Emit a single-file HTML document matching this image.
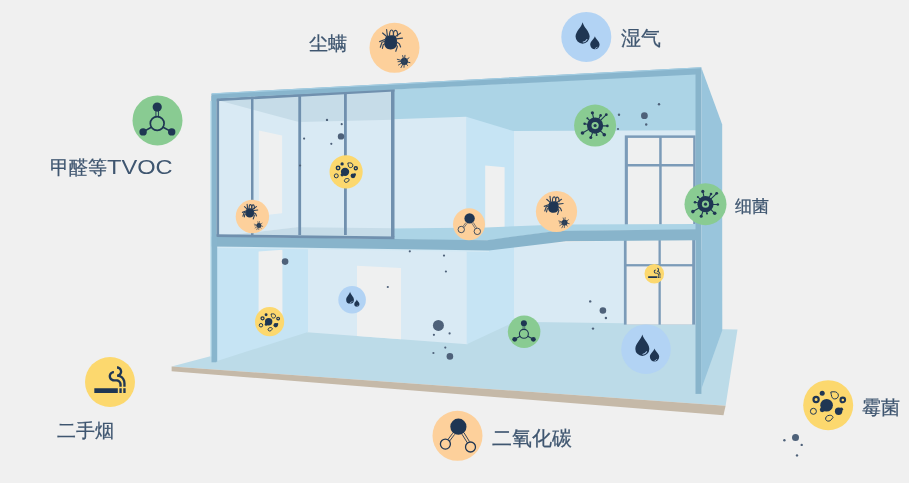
<!DOCTYPE html>
<html><head><meta charset="utf-8">
<style>
html,body{margin:0;padding:0;background:#f0f0f0;}
body{width:909px;height:483px;overflow:hidden;position:relative;font-family:"Liberation Sans",sans-serif;}
svg{position:absolute;left:0;top:0;}
.t{position:absolute;will-change:transform;font-weight:400;-webkit-text-stroke:0.25px #3f5670;font-family:"Liberation Sans",sans-serif;color:#3f5670;font-size:19px;line-height:1;white-space:nowrap;}
</style></head><body>
<svg width="909" height="483" viewBox="0 0 909 483">
<defs>
<!-- icon symbols centred at 0,0, circle radius 25 -->
<g id="mite">
  <circle r="25" fill="#fdd09b"/>
  <g fill="#1f3653" stroke="#1f3653" stroke-linecap="round" stroke-linejoin="round">
    <path stroke="none" d="M-7.9,-11.8 C-4.2,-12.9 -0.4,-12.7 1.2,-11.6 C2.6,-9.6 2.7,-6.2 2.5,-4 C2.3,-0.3 -0.4,1.7 -3.9,1.6 C-7.7,1.5 -10.3,-0.9 -10.2,-4.6 C-10.1,-7.6 -9.4,-10.4 -7.9,-11.8 Z"/>
    <g fill="none" stroke-width="1.15" stroke="#33455b">
      <path vector-effect="non-scaling-stroke" d="M-4.9,-11.8 C-5.1,-15.5 -4.3,-17.8 -2.9,-17.8 C-1.5,-17.8 -0.9,-15.5 -0.9,-11.8"/>
      <path vector-effect="non-scaling-stroke" d="M-1.2,-12 C-1.2,-15.3 -0.3,-17.5 1,-17.5 C2.4,-17.5 3.2,-15.3 3.1,-11.9"/>
      <path vector-effect="non-scaling-stroke" d="M-7.1,-11.8 L-7.9,-18.3"/>
      <path vector-effect="non-scaling-stroke" d="M-7.6,-11 L-11.9,-14.8"/>
      <path vector-effect="non-scaling-stroke" d="M-9,-8.6 L-14.9,-6.2"/>
      <path vector-effect="non-scaling-stroke" d="M-9.5,-6.5 L-12.5,-5.6 L-14.2,-0.6"/>
      <path vector-effect="non-scaling-stroke" d="M-9.6,-4.2 L-11.3,-3 L-12.1,0.6"/>
      <path vector-effect="non-scaling-stroke" d="M1.3,-11.6 L6.1,-14.8"/>
      <path vector-effect="non-scaling-stroke" d="M1.8,-8.9 L8,-9.7"/>
      <path vector-effect="non-scaling-stroke" d="M2.1,-5.7 L4.8,-4 L6.1,-0.8"/>
      <path vector-effect="non-scaling-stroke" d="M1.8,-3.2 L2.9,-1.3 L1.3,3.5"/>
    </g>
    <circle cx="9.8" cy="13.5" r="3.6" stroke="none"/>
    <g fill="none" stroke-width="0.95" stroke="#33455b">
      <path d="M9.8,13.5 L2.8,11.5 M9.8,13.5 L3.5,13.9 M9.8,13.5 L4,17.2 M9.8,13.5 L6.5,19.8 M9.8,13.5 L8.1,7.8 M9.8,13.5 L10.5,7.5 M9.8,13.5 L15.4,14.8 M9.8,13.5 L13,17.7 M9.8,13.5 L14.5,10 M9.8,13.5 L9.5,19.5"/>
    </g>
  </g>
</g>
<g id="water">
  <circle r="25" fill="#b2d3f4"/>
  <path fill="#1f3653" d="M-3.70,-14.70 C-2.64,-9.66 3.35,-5.59 3.35,-0.30 A7.05,7.05 0 0 1 -10.75,-0.30 C-10.75,-5.59 -4.76,-9.66 -3.70,-14.70 Z"/>
  <path fill="#1f3653" d="M8.60,-0.70 C9.30,2.24 13.30,4.17 13.30,7.70 A4.7,4.7 0 0 1 3.90,7.70 C3.90,4.17 7.89,2.24 8.60,-0.70 Z"/>
  <path fill="none" stroke="#aac9ea" stroke-width="1.1" stroke-linecap="round" d="M-3.1,5.1 Q-0.8,5 0.6,2.6"/>
  <path fill="none" stroke="#aac9ea" stroke-width="0.8" stroke-linecap="round" d="M9.0,11.6 Q10.3,11.4 10.9,10.3"/>
</g>
<g id="voc">
  <circle r="25" fill="#89cb92"/>
  <g stroke="#1f3653" fill="#1f3653" stroke-linecap="round">
    <circle cx="-0.3" cy="3.1" r="6.9" fill="none" stroke-width="1.7"/>
    <circle cx="-0.3" cy="-13.3" r="4.6" stroke="none"/>
    <path d="M-1.6,-9.5 L-1.6,-3.6 M1.0,-9.5 L1.0,-3.6" stroke-width="0.9" fill="none"/>
    <path d="M-6.2,6.8 L-14.4,11.5 M5.6,6.8 L14.2,11.5" stroke-width="1.6" fill="none"/>
    <circle cx="-14.4" cy="11.5" r="3.7" stroke="none"/>
    <circle cx="14.2" cy="11.5" r="3.7" stroke="none"/>
  </g>
</g>
<g id="cig">
  <circle r="25" fill="#fcd86e"/>
  <g transform="translate(-18.8,-18.8) scale(1.565)" fill="#1f3653">
    <path d="M2 16h15v3H2zm18.5 0H22v3h-1.5zM18 16h1.5v3H18zm.85-8.27c.62-.61 1-1.45 1-2.38C19.85 3.5 18.35 2 16.5 2v1.5c1.02 0 1.85.83 1.85 1.85S17.52 7.2 16.5 7.2v1.5c2.24 0 4 1.83 4 4.07V15H22v-2.24c0-2.22-1.28-4.14-3.15-5.03zm-2.82 2.47H14.5c-1.02 0-1.85-.98-1.85-2s.83-1.75 1.85-1.75v-1.5c-1.85 0-3.35 1.5-3.35 3.35s1.5 3.35 3.35 3.35h1.53c1.05 0 1.97.74 1.97 2.05V15h1.5v-1.64c0-1.81-1.6-3.16-3.47-3.16z"/>
  </g>
</g>
<g id="virus">
  <circle r="25" fill="#89cb92"/>
  <g transform="scale(1.19)" fill="#1f3653" stroke="#1f3653" stroke-linecap="round">
    <g stroke-width="1.1" fill="none">
      <path d="M0,0 L-2.7,-12.8 M0,0 L5.5,-10.2 M0,0 L11.2,-10.9 M0,0 L12.3,0.3 M0,0 L9.2,9.1 M0,0 L1.5,9.4 M0,0 L-4.3,12 M0,0 L-12.6,7.4 M0,0 L-10.5,-1.9 M0,0 L-7.7,-7.3"/>
    </g>
    <g stroke="none">
      <circle cx="-2.7" cy="-12.8" r="1.6"/>
      <circle cx="5.5" cy="-10.2" r="1.3"/>
      <circle cx="11.2" cy="-10.9" r="1.4"/>
      <circle cx="12.3" cy="0.3" r="1.3"/>
      <circle cx="9.2" cy="9.1" r="1.8"/>
      <circle cx="1.5" cy="9.4" r="1"/>
      <circle cx="-4.3" cy="12" r="1.5"/>
      <circle cx="-12.6" cy="7.4" r="1.8"/>
      <circle cx="-10.5" cy="-1.9" r="1.3"/>
      <circle cx="-7.7" cy="-7.3" r="1"/>
      <circle r="8.1"/>
      <circle r="3.6" fill="#89cb92"/>
      <circle r="1.6"/>
    </g>
  </g>
</g>
<g id="mold">
  <circle r="25" fill="#fcd86e"/>
  <g fill="#1f3653" stroke="#1f3653">
    <circle cx="-1.6" cy="0.1" r="6.3" stroke="none"/>
    <circle cx="-6" cy="4.6" r="2.4" stroke="none"/>
    <circle cx="-6" cy="-11.9" r="2.5" stroke="none"/>
    <circle cx="-12.1" cy="-5.7" r="2.6" fill="none" stroke-width="2.2"/>
    <circle cx="14.6" cy="-5.3" r="2.3" fill="none" stroke-width="2.1"/>
    <path fill="none" stroke-width="1" vector-effect="non-scaling-stroke" d="M2.6,-13.2 C4.2,-13.6 5.5,-13.4 7.2,-13.3 C9.6,-12.8 10.6,-10.5 10,-8.6 C9.2,-6.4 6.8,-5.8 5,-6.6 C3.5,-7.4 3.3,-9.4 2.6,-13.2 Z"/>
    <circle cx="-14.8" cy="6.1" r="3" fill="none" stroke-width="1" vector-effect="non-scaling-stroke"/>
    <circle cx="10.4" cy="6.1" r="3.7" stroke="none"/>
    <circle cx="13.1" cy="4.1" r="1.8" stroke="none"/>
    <path fill="none" stroke-width="1" vector-effect="non-scaling-stroke" d="M4.8,12.3 C4.6,10.6 3.1,9.9 1,10.1 C-1.6,10.4 -3,12.3 -2.5,14.2 C-1.9,16 0.4,16.4 2.2,15.4 C3.4,14.6 3.8,13 4.8,12.3 Z"/>
  </g>
</g>
<g id="co2">
  <circle r="25" fill="#fdd09b"/>
  <g stroke="#1f3653" fill="#1f3653">
    <circle cx="0.9" cy="-9.1" r="8.1" stroke="none"/>
    <path fill="none" stroke-width="0.9" d="M-4.8,-2.6 L-9.9,4.2 M-2.9,-1.4 L-8,5.4 M4.5,-1.6 L9.9,7.1 M6.6,-2.9 L12,5.8"/>
    <circle cx="-12.1" cy="8.3" r="5" fill="#fdd09b" stroke-width="1.3"/>
    <circle cx="13" cy="11.2" r="5" fill="#fdd09b" stroke-width="1.3"/>
  </g>
</g>
</defs>

<!-- ===== BASE SLAB ===== -->
<polygon fill="#bcdbe8" points="171.6,366.4 217,354.6 217,250 722,250 722.2,329.2 737.5,329.4 725.6,405.8"/>
<polygon fill="#c5b9a8" points="171.6,366.4 725.6,405.8 723.5,415.3 171.6,371.2"/>

<!-- ===== BOTTOM FLOOR ===== -->
<!-- back walls -->
<polygon fill="#d9eaf4" points="307,248 467.6,248 467.6,344.3 307,332.3"/>
<polygon fill="#d9eaf4" points="513,244 697.5,238 697.5,324.2 513,321.8"/>
<!-- left wall -->
<polygon fill="#c6e4f4" points="217,248 308,248 308,332 217,361"/>
<!-- partition -->
<polygon fill="#c6e4f4" points="466.7,248 514,244 514,322 466.7,344.3"/>

<!-- doors -->
<polygon fill="#eff0f0" points="258.6,251.4 282.4,249.8 282.4,322 258.6,327"/>
<polygon fill="#eff0f0" points="357,265.8 401,268.1 401,339.3 357,336"/>
<!-- bottom window -->
<rect x="623.9" y="238" width="71.3" height="86.6" fill="#7b9bb8"/>
<rect x="626.6" y="238" width="31.9" height="26.1" fill="#eff0f0"/>
<rect x="660.8" y="238" width="31.4" height="26.1" fill="#eff0f0"/>
<rect x="626.6" y="266.4" width="31.9" height="58.2" fill="#eff0f0"/>
<rect x="660.8" y="266.4" width="31.4" height="58.2" fill="#eff0f0"/>

<!-- ===== TOP FLOOR (behind glass) ===== -->
<polygon fill="#c6dce8" points="218,99 394,89 394,124 300,125 218,104"/>
<polygon fill="#d9eaf4" points="297,121.5 300,122 393,119.8 394,119.8 394,229 296.5,229"/>
<polygon fill="#d9eaf4" points="218,100.2 297,121.5 297,227.5 218,236.2"/>

<polygon fill="#c6dce8" points="218,236.2 297,227.3 394,228.2 394,237 218,237"/>
<polygon fill="#eff0f0" points="258.9,130.6 282.1,135.6 282.1,213.2 258.9,215.8"/>

<!-- ===== TOP FLOOR (open) ===== -->
<polygon fill="#acd4e6" points="392,89.5 696,73.5 696,133 392,133"/>
<polygon fill="#d9eaf4" points="392,119.35 466.2,116.75 466.2,116.9 467.2,117 467.2,230 392,230"/>
<polygon fill="#d9eaf4" points="513.5,131.1 696,130.15 696,230 513.5,230"/>
<polygon fill="#c6e4f4" points="466.2,116.75 514,131.2 514,230 466.2,230"/>
<polygon fill="#eff0f0" points="485.2,165.5 504.6,167.2 504.6,230 485.2,230"/>

<!-- top window -->
<rect x="624.8" y="135.4" width="70.8" height="92" fill="#7b9bb8"/>
<rect x="627.9" y="137.9" width="31.3" height="26.1" fill="#eff0f0"/>
<rect x="661.7" y="137.9" width="31.5" height="26.1" fill="#eff0f0"/>
<rect x="627.9" y="166.5" width="31.3" height="62" fill="#eff0f0"/>
<rect x="661.7" y="166.5" width="31.5" height="62" fill="#eff0f0"/>

<!-- ===== MIDDLE SLAB ===== -->
<polygon fill="#acd4e6" points="391,228.4 486,227.4 560,224.5 697,223.9 697,229.8 556,231.3 487,240.6 391,239.5"/>
<polygon fill="#d3e9f4" points="217,246 489,250.1 489,252 217,248"/>
<polygon fill="#88b4cb" points="211.3,236.5 487,240.2 556,230.9 697,229.3 697,240.2 566,241.2 489,250.6 211.3,246.4"/>

<!-- ===== GLASS FRAME (top-left) ===== -->
<g fill="#7090ae">
  <polygon points="216.3,98.3 394.5,88.6 394.5,91.6 216.3,101.2"/>
  <rect x="216.3" y="98.3" width="2.8" height="138.4"/>
  <rect x="391" y="88.6" width="3.5" height="148.4"/>
  <polygon points="216.3,234.3 394.5,236.4 394.5,239.3 216.3,237.1"/>
  <rect x="251" y="96.5" width="2.5" height="138.5"/>
  <rect x="298.3" y="94" width="2.8" height="141"/>
  <rect x="344" y="91.5" width="2.8" height="143.5"/>
</g>

<!-- ===== ROOF + COLUMNS ===== -->
<polygon fill="#88b5cd" points="211.4,93.4 701.4,67.2 701.4,74.2 695.6,74.5 216.3,98.5 216.3,101 211.4,101"/>
<line x1="212" y1="93.9" x2="700.8" y2="67.8" stroke="#a3cde2" stroke-width="1.1"/>
<rect x="210.2" y="101" width="1.6" height="256" fill="#bfe1f1"/>
<rect x="211.5" y="96" width="4.8" height="266.3" fill="#88b5cd"/>
<rect x="216" y="236.7" width="1.2" height="125" fill="#88b5cd"/>
<rect x="695.5" y="70" width="5.9" height="323.9" fill="#88b4cb"/>
<polygon fill="#99c5dc" points="701.4,67.8 722.2,124.4 722.2,330.5 701.4,388.7"/>

<!-- ===== DUST ===== -->
<g fill="#4e6179">
  <circle cx="327" cy="119.9" r="1.2"/>
  <circle cx="341.7" cy="124.2" r="1.1"/>
  <circle cx="341" cy="136.4" r="3.2"/>
  <circle cx="304.1" cy="138.6" r="1.1"/>
  <circle cx="331.3" cy="143.8" r="1.1"/>
  <circle cx="300.1" cy="165.5" r="1.1"/>
  <circle cx="659" cy="104.2" r="1.2"/>
  <circle cx="619" cy="114.8" r="1.2"/>
  <circle cx="644.4" cy="115.7" r="3.4"/>
  <circle cx="646.2" cy="124.5" r="1.2"/>
  <circle cx="618" cy="129" r="1.1"/>
  <circle cx="285.1" cy="261.6" r="3.3"/>
  <circle cx="409.8" cy="251.3" r="1.1"/>
  <circle cx="387.8" cy="287" r="1.1"/>
  <circle cx="444" cy="255.6" r="1.1"/>
  <circle cx="445.9" cy="271.5" r="1.1"/>
  <circle cx="438.4" cy="325.4" r="5.5"/>
  <circle cx="433.9" cy="334.8" r="1.1"/>
  <circle cx="449.6" cy="333.4" r="1.1"/>
  <circle cx="445.3" cy="347.6" r="1.1"/>
  <circle cx="433.4" cy="353" r="1.1"/>
  <circle cx="449.9" cy="356.4" r="3.3"/>
  <circle cx="590.2" cy="301.4" r="1.2"/>
  <circle cx="602.9" cy="310.5" r="3.3"/>
  <circle cx="605.9" cy="318" r="1.2"/>
  <circle cx="593" cy="328.6" r="1.2"/>
  <circle cx="795.5" cy="437.4" r="3.5"/>
  <circle cx="784.4" cy="440.3" r="1.2"/>
  <circle cx="801.7" cy="444.9" r="1.2"/>
  <circle cx="797" cy="455.4" r="1.2"/>
</g>

<!-- ===== ICONS ===== -->
<use href="#voc" transform="translate(157.5,120.4)"/>
<use href="#mite" transform="translate(394.5,47.8)"/>
<use href="#water" transform="translate(586.3,36.9)"/>
<use href="#virus" transform="translate(705.5,204.2) scale(0.84)"/>
<use href="#mold" transform="translate(828.2,405.2)"/>
<use href="#cig" transform="translate(110,382)"/>
<use href="#co2" transform="translate(457.5,435.8)"/>

<use href="#mold" transform="translate(346.1,171.8) scale(0.664)"/>
<use href="#mite" transform="translate(252.4,216.5) scale(0.668)"/>
<use href="#co2" transform="translate(469,224.2) scale(0.64)"/>
<use href="#mite" transform="translate(556.5,211.5) scale(0.824)"/>
<use href="#virus" transform="translate(595.1,125.6) scale(0.84)"/>
<use href="#water" transform="translate(352.1,299.8) scale(0.552)"/>
<use href="#mold" transform="translate(269.6,321.7) scale(0.584)"/>
<use href="#voc" transform="translate(524.1,331.8) scale(0.652)"/>
<use href="#water" transform="translate(646,349.2) scale(0.992)"/>
<use href="#cig" transform="translate(654.3,273.8) scale(0.392)"/>
</svg>

<div class="t" style="left:50px;top:155.5px;">甲醛等<span style="display:inline-block;-webkit-text-stroke:0;font-size:21px;transform:scaleX(1.125);transform-origin:0 0;">TVOC</span></div>
<div class="t" style="left:309px;top:33.5px;">尘螨</div>
<div class="t" style="left:621px;top:29.2px;font-size:19.5px;">湿气</div>
<div class="t" style="left:735px;top:198px;font-size:16.5px;">细菌</div>
<div class="t" style="left:861.5px;top:397.8px;font-size:19px;">霉菌</div>
<div class="t" style="left:57px;top:420.5px;">二手烟</div>
<div class="t" style="left:492px;top:427.5px;font-size:20px;">二氧化碳</div>
</body></html>
